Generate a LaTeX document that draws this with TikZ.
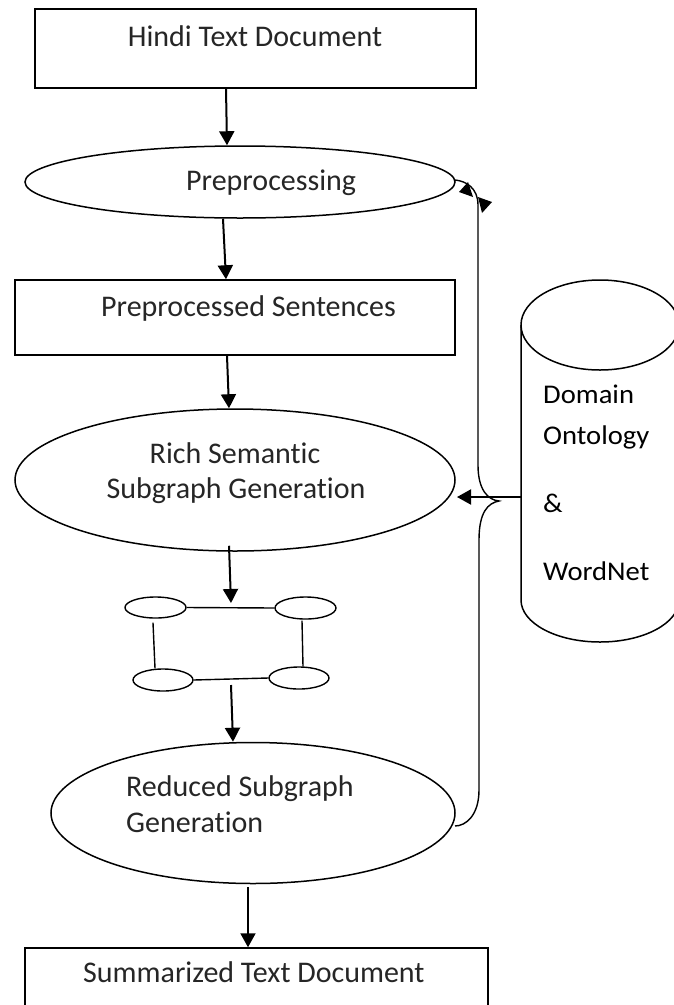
\documentclass[tikz,border=0pt]{standalone}
\usepackage{fontspec}
\setmainfont[Ligatures={NoCommon}]{Carlito}
\newfontfamily\cylfont[FakeStretch=1.06,Ligatures={NoCommon}]{Carlito}
\usetikzlibrary{shapes.geometric,arrows.meta}
\begin{document}
\begin{tikzpicture}[x=1pt,y=-1pt,
  shapeline/.style={draw=black,line width=1.5pt},
  boxnode/.style={shapeline,rectangle,inner sep=0pt},
  ellnode/.style={shapeline,ellipse,inner sep=0pt},
  gnode/.style={draw=black,line width=1.4pt,ellipse,inner sep=0pt},
  gedge/.style={draw=black,line width=1.4pt},
  arr/.style={draw=black,line width=2pt,-{Triangle[length=14pt,width=15pt]}},
  lbl/.style={inner sep=0pt,font=\fontsize{30}{36}\selectfont,text=black!85},
  cyllbl/.style={inner sep=0pt,anchor=base west,font=\cylfont\fontsize{27}{32}\selectfont,text=black}]
\useasboundingbox (0,0) rectangle (674,1005);
\clip (0,0) rectangle (674,1005);
\fill[white] (0,0) rectangle (674,1005);

% main nodes
\node[boxnode,minimum width=441pt,minimum height=79pt] (box1) at (255.5,48.5) {};
\node[ellnode,minimum width=430pt,minimum height=72pt] (pre) at (240,182) {};
\node[boxnode,minimum width=440pt,minimum height=75pt] (box2) at (235,317.5) {};
\node[ellnode,minimum width=440pt,minimum height=142pt] (rich) at (235,480) {};
\node[ellnode,minimum width=404pt,minimum height=141pt] (red) at (253,813) {};
\node[boxnode,minimum width=463pt,minimum height=70pt] (box3) at (256.5,983) {};

% labels
\node[lbl,anchor=base] (t1) at (255,46) {Hindi Text Document};
\node[lbl,anchor=base west] (t2) at (186,190) {Preprocessing};
\node[lbl,anchor=base west] (t3) at (101,316) {Preprocessed Sentences};
\node[lbl,anchor=base] (t4a) at (235,463) {Rich Semantic};
\node[lbl,anchor=base] (t4b) at (236,498) {Subgraph Generation};
\node[lbl,anchor=base west] (t5a) at (126,796) {Reduced Subgraph};
\node[lbl,anchor=base west] (t5b) at (126,832) {Generation};
\node[lbl,anchor=base west] (t6) at (83,982) {Summarized Text Document};

% small graph
\node[gnode,minimum width=61pt,minimum height=21pt] (g1) at (155.5,607.5) {};
\node[gnode,minimum width=61pt,minimum height=22pt] (g2) at (305.5,608) {};
\node[gnode,minimum width=60pt,minimum height=22pt] (g3) at (163,680) {};
\node[gnode,minimum width=60pt,minimum height=22pt] (g4) at (299,678) {};
\draw[gedge] (g1.east) -- (g2.west);
\draw[gedge] (g3.east) -- (g4.west);
\draw[gedge] ([xshift=-2.5pt,yshift=-4pt]g1.south) -- ([xshift=-8pt]g3.north);
\draw[gedge] ([xshift=-3.5pt,yshift=-1pt]g2.south) -- ([xshift=4pt]g4.north);
\coordinate (gin) at (231,603);
\coordinate (gout) at (231,685);

% cylinder (database)
\draw[shapeline] (521,325) -- (521,600)
  arc[start angle=180,end angle=0,x radius=79,y radius=42] -- (679,325);
\draw[shapeline] (600,325) ellipse [x radius=79, y radius=45];
\node[cyllbl] (c1) at (543,403) {Domain};
\node[cyllbl] (c2) at (543,444) {Ontology};
\node[cyllbl] (c3) at (543,512) {\&};
\node[cyllbl] (c4) at (543,580) {WordNet};
\coordinate (cylout) at (521,497);
\coordinate (richin) at (457,497);

% flow arrows
\draw[arr] ([xshift=-29.5pt]box1.south) -- ([xshift=-13pt]pre.north);
\draw[arr] ([xshift=-17pt]pre.south) -- ([xshift=-9pt]box2.north);
\draw[arr] ([xshift=-8pt]box2.south) -- ([xshift=-6pt]rich.north);
\draw[arr] ([xshift=-6pt,yshift=6pt]rich.south) -- (gin);
\draw[arr] (gout) -- ([xshift=-20pt]red.north);
\draw[arr] ([xshift=-5pt,yshift=-3pt]red.south) -- ([xshift=-8.5pt]box3.north);
\draw[arr] (cylout) -- (richin);

% brace from database to preprocessing and reduced subgraph
\coordinate (brtop) at (455,180);
\coordinate (brbot) at (455,826);
\draw[draw=black,line width=1.4pt] (brtop)
  .. controls (466,181) and (478,188) .. (478,205) -- (478,465)
  .. controls (478,490) and (488,500) .. (499,501)
  .. controls (488,503) and (479,512) .. (479,540) -- (479,790)
  .. controls (479,815) and (466,826) .. (brbot);
\fill[black] (459,192) -- (468,182) -- (473,197) -- cycle;
\fill[black] (478,197) -- (492,202) -- (482,213) -- cycle;
\end{tikzpicture}
\end{document}
